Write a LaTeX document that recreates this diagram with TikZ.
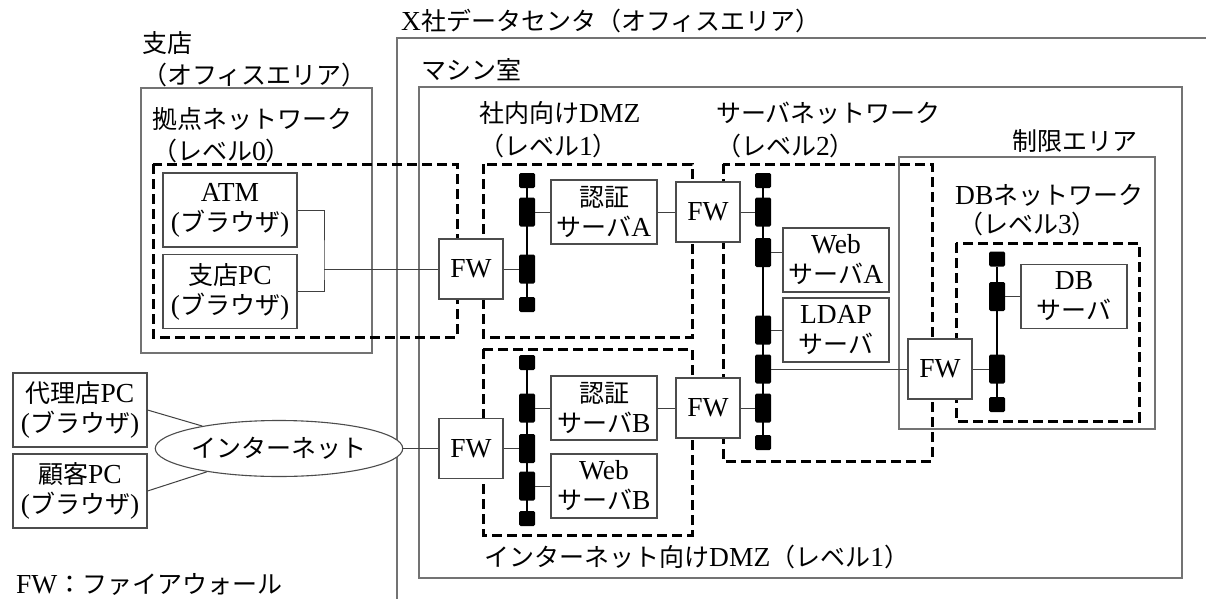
\documentclass[tikz,border=0pt]{standalone}
\usepackage{fontspec}
\setmainfont{Liberation Serif}[Scale=1.1]
\newfontfamily\jp{Noto Sans CJK JP}
\newcommand\J[1]{{\jp #1}}
\usetikzlibrary{shapes.geometric}
\begin{document}
\begin{tikzpicture}[x=1pt,y=-1pt,
  frame/.style={draw=black!55, line width=1.3pt},
  zone/.style={draw=black, line width=3pt, dash pattern=on 10pt off 5pt},
  box/.style={draw=black!70, line width=1.1pt, fill=white, inner sep=0pt, align=center, font=\fontsize{25}{30}\selectfont},
  fwbox/.style={box, minimum width=64pt, minimum height=60pt},
  srv/.style={box, minimum width=106pt, minimum height=64pt},
  pc/.style={box, minimum width=134pt, minimum height=74pt},
  lbl/.style={anchor=base west, inner sep=0pt, font=\fontsize{25}{30}\selectfont},
  wire/.style={draw=black!75, line width=1pt},
  bus/.style={draw=black, line width=2.6pt},
  buscap/.style={fill=black, minimum width=16pt, minimum height=15pt, inner sep=0pt, rounded corners=1.5pt},
  busport/.style={fill=black, minimum width=16pt, minimum height=29pt, inner sep=0pt, rounded corners=1.5pt},
]
\fill[white] (0,0) rectangle (1206,599);
\useasboundingbox (0,0) rectangle (1206,599);

% frames
\draw[frame] (1206,38) -- (397,38) -- (397,599);
\draw[frame] (419,87) rectangle (1182,578);
\draw[frame] (141,88) rectangle (372,353);
\draw[frame] (899,157) rectangle (1155,429);

% zones
\draw[zone] (153,164) rectangle (457,337);
\draw[zone] (483,164) rectangle (692,337);
\draw[zone] (483,349) rectangle (692,535);
\draw[zone] (723,164) rectangle (932,461);
\draw[zone] (956,243) rectangle (1139,421);

% labels
\node[lbl] (tX) at (401,30.5) {X\J{社データセンタ（オフィスエリア）}};
\node[lbl] (tM) at (421,79.5) {\J{マシン室}};
\node[lbl] (tB1) at (142,52.5) {\J{支店}};
\node[lbl] (tB2) at (142,84.5) {\J{（オフィスエリア）}};
\node[lbl] (tK1) at (152,128.5) {\J{拠点ネットワーク}};
\node[lbl] (tK2) at (152,160.5) {\J{（レベル}0\J{）}};
\node[lbl] (tD1) at (479,122.5) {\J{社内向け}DMZ};
\node[lbl] (tD2) at (479,155.5) {\J{（レベル}1\J{）}};
\node[lbl] (tS1) at (716,122.5) {\J{サーバネットワーク}};
\node[lbl] (tS2) at (716,155.5) {\J{（レベル}2\J{）}};
\node[lbl] (tR) at (1012,150.5) {\J{制限エリア}};
\node[lbl] (tN1) at (955,204.5) {DB\J{ネットワーク}};
\node[lbl] (tN2) at (958,233.5) {\J{（レベル}3\J{）}};
\node[lbl] (tI) at (484,566.5) {\J{インターネット向け}DMZ\J{（レベル}1\J{）}};
\node[lbl] (tF) at (16,593) {FW\J{：ファイアウォール}};

% branch
\node[pc] (atm) at (230,210) {ATM\\(\J{ブラウザ})};
\node[pc] (brpc) at (230,291.5) {\J{支店}PC\\(\J{ブラウザ})};
\coordinate (jn) at (324,269);

% outside
\node[pc] (dairi) at (80,410) {\J{代理店}PC\\(\J{ブラウザ})};
\node[pc] (kokyaku) at (80,491) {\J{顧客}PC\\(\J{ブラウザ})};
\node[draw=black!70, line width=1.1pt, ellipse, fill=white, minimum width=212pt, minimum height=56pt, inner sep=0pt, font=\fontsize{25}{30}\selectfont] (inet) at (279,448.5) {\J{インターネット}};

% firewalls
\node[fwbox] (fw1) at (471,269) {FW};
\node[fwbox] (fw2) at (708,212) {FW};
\node[fwbox] (fw3) at (471,448.5) {FW};
\node[fwbox] (fw4) at (708,408) {FW};
\node[fwbox] (fwdb) at (940,369) {FW};

% servers
\node[srv] (authA) at (604,212) {\J{認証}\\\J{サーバ}A};
\node[srv] (authB) at (604,408) {\J{認証}\\\J{サーバ}B};
\node[srv] (webB) at (604,486) {Web\\\J{サーバ}B};
\node[srv] (webA) at (836,260) {Web\\\J{サーバ}A};
\node[srv] (ldap) at (836,330) {LDAP\\\J{サーバ}};
\node[srv] (db) at (1074,296.5) {DB\\\J{サーバ}};

% bus 1 (internal DMZ)
\node[buscap] (b1t) at (527,180.5) {};
\node[buscap] (b1b) at (527,304.5) {};
\draw[bus] (b1t) -- (b1b);
\node[busport] (b1p1) at (527,212) {};
\node[busport] (b1p2) at (527,269) {};

% bus 2 (server network)
\node[buscap] (b2t) at (763,180.5) {};
\node[buscap] (b2b) at (763,442.5) {};
\draw[bus] (b2t) -- (b2b);
\node[busport] (b2p1) at (763,212) {};
\node[busport] (b2p2) at (763,252.5) {};
\node[busport] (b2p3) at (763,330) {};
\node[busport] (b2p4) at (763,369) {};
\node[busport] (b2p5) at (763,408) {};

% bus 3 (DB network)
\node[buscap] (b3t) at (997,259) {};
\node[buscap] (b3b) at (997,404.5) {};
\draw[bus] (b3t) -- (b3b);
\node[busport] (b3p1) at (997,296.5) {};
\node[busport] (b3p2) at (997,369) {};

% bus 4 (internet DMZ)
\node[buscap] (b4t) at (527,362.5) {};
\node[buscap] (b4b) at (527,518.5) {};
\draw[bus] (b4t) -- (b4b);
\node[busport] (b4p1) at (527,408) {};
\node[busport] (b4p2) at (527,448.5) {};
\node[busport] (b4p3) at (527,486) {};

% wires
\draw[wire] (atm.east) -| (jn) |- (brpc.east);
\draw[wire] (jn) -- (fw1.west);
\draw[wire] (fw1.east) -- (b1p2.west);
\draw[wire] (b1p1.east) -- (authA.west);
\draw[wire] (authA.east) -- (fw2.west);
\draw[wire] (fw2.east) -- (b2p1.west);
\draw[wire] (b2p2.east) -- (b2p2.east -| webA.west);
\draw[wire] (b2p3.east) -- (ldap.west);
\draw[wire] (b2p4.east) -- (fwdb.west);
\draw[wire] (fw4.east) -- (b2p5.west);
\draw[wire] (fwdb.east) -- (b3p2.west);
\draw[wire] (b3p1.east) -- (db.west);
\draw[wire] (authB.east) -- (fw4.west);
\draw[wire] (b4p1.east) -- (authB.west);
\draw[wire] (fw3.east) -- (b4p2.west);
\draw[wire] (b4p3.east) -- (webB.west);
\draw[wire] (inet.east) -- (fw3.west);
\draw[wire] (dairi.east) -- (inet);
\draw[wire] (kokyaku.east) -- (inet);
\end{tikzpicture}
\end{document}
